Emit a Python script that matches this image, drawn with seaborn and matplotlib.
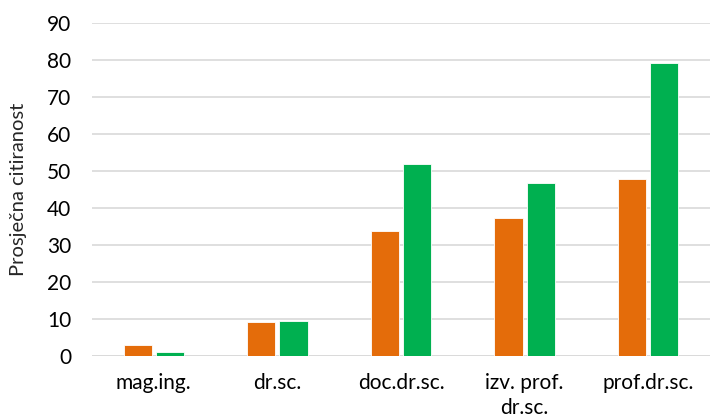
import matplotlib
matplotlib.use('Agg')
import matplotlib.pyplot as plt
import seaborn as sns
import pandas as pd

# podaci
kategorije = ['mag.ing.', 'dr.sc.', 'doc.dr.sc.', 'izv. prof.\ndr.sc.', 'prof.dr.sc.']
serija_a = [3.0, 9.2, 33.8, 37.3, 47.9]
serija_b = [1.1, 9.4, 51.9, 46.8, 79.2]

df = pd.DataFrame({
    'kategorija': kategorije * 2,
    'vrijednost': serija_a + serija_b,
    'serija': ['A'] * len(kategorije) + ['B'] * len(kategorije),
})

sns.set_style('white')
plt.rcParams['font.family'] = ['Lato', 'DejaVu Sans']

fig = plt.figure(figsize=(7.12, 4.2), dpi=100)
ax = fig.add_axes([92 / 712, 64 / 420, 618 / 712, 333 / 420])

sns.barplot(data=df, x='kategorija', y='vrijednost', hue='serija',
            palette=['#E46C0A', '#00B050'], saturation=1, width=0.52, gap=0.12,
            edgecolor='white', linewidth=0.6, legend=False, ax=ax)

ax.set_ylim(0, 90)
ax.set_yticks(range(0, 91, 10))
ax.yaxis.grid(True, color='#D9D9D9', linewidth=1.2)
ax.set_axisbelow(True)
for s in ax.spines.values():
    s.set_visible(False)
ax.axhline(0, color='#D9D9D9', linewidth=1.2, zorder=0)

ax.set_xlabel('')
ax.set_ylabel('Prosječna citiranost', fontsize=14.5, labelpad=14)
ax.tick_params(axis='both', length=0, labelsize=15, colors='black')
ax.tick_params(axis='x', pad=12)
ax.tick_params(axis='y', pad=15)
for lbl in ax.get_xticklabels():
    lbl.set_linespacing(1.35)

fig.savefig('out.png', dpi=100)
